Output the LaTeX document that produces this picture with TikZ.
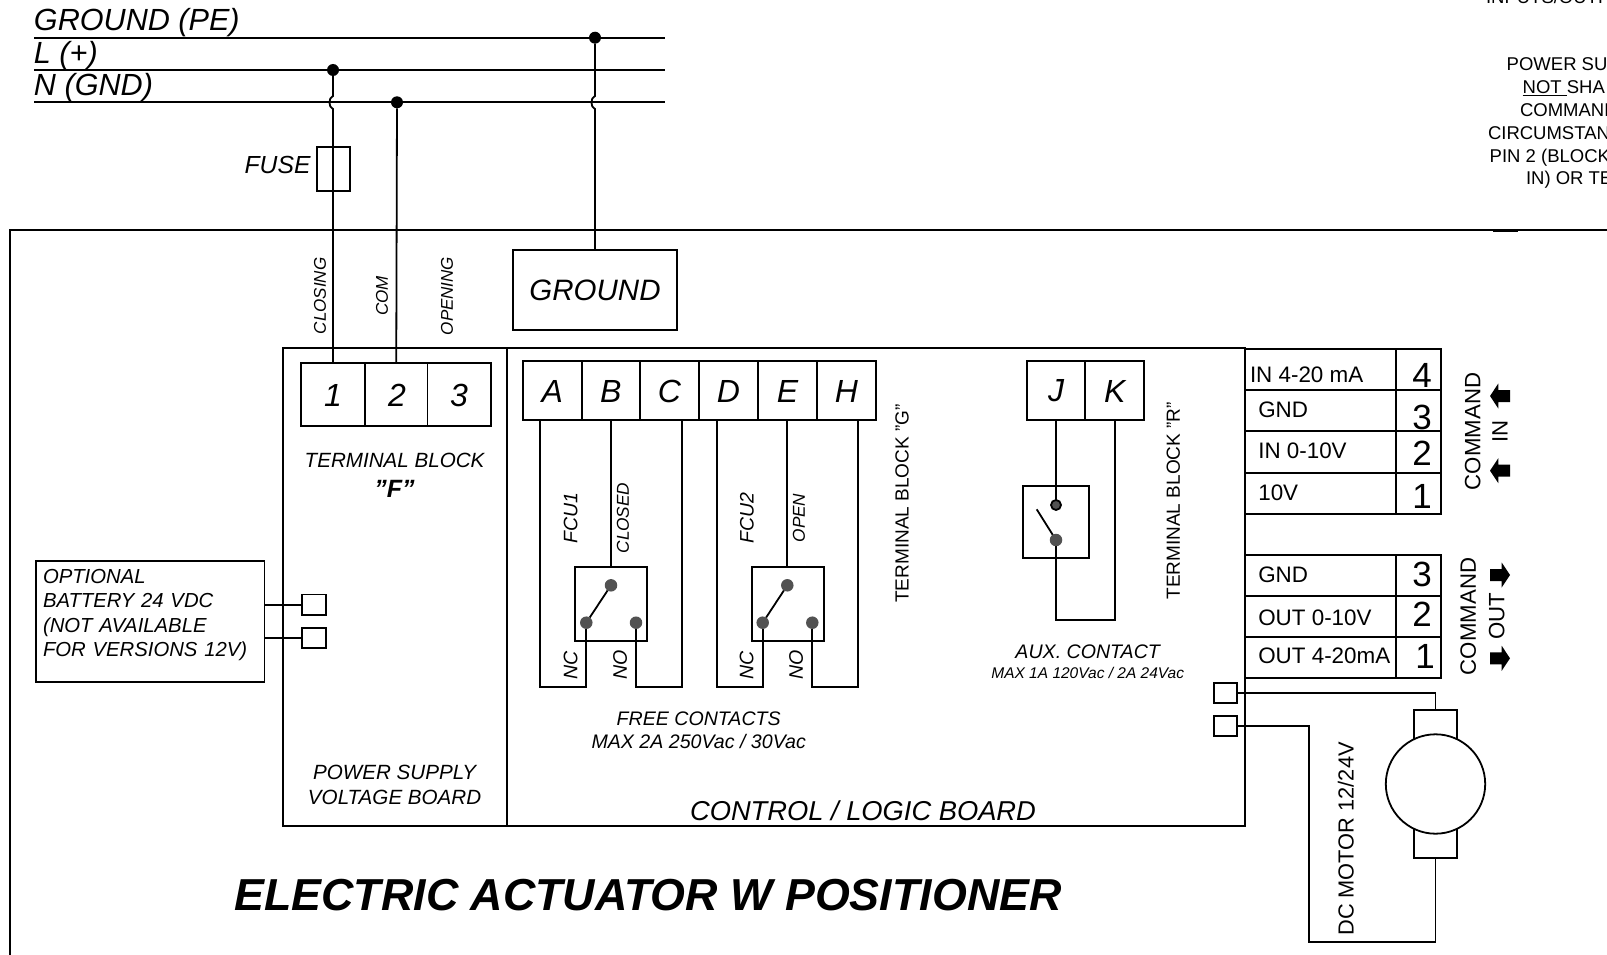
\documentclass[tikz,border=0pt]{standalone}
\usepackage{fontspec}
\setmainfont{Liberation Sans}
\newcommand{\fsz}[2]{\fontsize{#1}{#2}\selectfont}
\tikzset{
	wire/.style={line width=1.8pt},
	cell/.style={draw, line width=1.8pt, inner sep=0pt, outer sep=0pt},
	txt/.style={inner sep=0pt, outer sep=0pt},
	bus/.style={txt, anchor=base west, font=\fsz{30.6}{34}\itshape},
	vlab/.style={txt, rotate=90, font=\fsz{17}{20}\itshape},
	vsmall/.style={txt, rotate=90, font=\fsz{17.2}{20}\itshape},
	vcon/.style={txt, rotate=90, font=\fsz{19.6}{22}\itshape},
	vtxt/.style={txt, rotate=90, font=\fsz{22.2}{25}},
	boardtxt/.style={txt, font=\fsz{20.6}{24}\itshape},
	pinletter/.style={txt, font=\fsz{32}{36}\itshape},
	row/.style={txt, anchor=west, font=\fsz{22.4}{26}},
	num/.style={txt, font=\fsz{35}{38}},
	note/.style={txt, anchor=base west, font=\fsz{18.5}{22}},
	dot/.style={circle, fill=black, inner sep=0pt, outer sep=0pt, minimum size=12pt},
	pin/.style={circle, fill=black!68, inner sep=0pt, outer sep=0pt, minimum size=12.5pt},
	cmdarrow/.pic={
		\fill (-10,0) -- (-1.7,-12.5) -- (-1.7,-6) -- (10,-6) -- (10,6) -- (-1.7,6) -- (-1.7,12.5) -- cycle;
	}
}

\begin{document}
\begin{tikzpicture}[x=1pt,y=-1pt]
	\useasboundingbox (0,0) rectangle (1607,955);
	\clip (0,0) rectangle (1607,955);

	% supply lines
	\coordinate (pe1) at (34,37.7);
	\coordinate (pe2) at (665,37.7);
	\coordinate (l1) at (34,70);
	\coordinate (l2) at (665,70);
	\coordinate (n1) at (34,102.3);
	\coordinate (n2) at (665,102.3);
	\node[bus] (peText) at (34,31) {GROUND (PE)};
	\node[bus] (lText) at (34,64) {L (+)};
	\node[bus] (nText) at (34,96) {N (GND)};
	\draw[wire] (pe1) -- (pe2);
	\draw[wire] (l1) -- (l2);
	\draw[wire] (n1) -- (n2);
	\node[dot] (dotPe) at (595,37.7) {};
	\node[dot] (dotL) at (333,70) {};
	\node[dot] (dotN) at (397,102.3) {};

	% outer housing
	\coordinate (h1) at (10,960);
	\coordinate (h2) at (10,230.3);
	\coordinate (h3) at (1612,230.3);
	\coordinate (h4) at (1493,230.3);
	\coordinate (h5) at (1518,230.3);
	\draw[wire] (h1) -- (h2) -- (h3);
	\draw[line width=2.4pt] (h4) -- (h5);

	% ground and fuse
	\node[cell, minimum width=163.4pt, minimum height=80pt, font=\fsz{29.5}{32}\itshape] (ground) at (595,290) {GROUND};
	\node[cell, minimum width=33pt, minimum height=44pt] (fuse) at (333.5,168.7) {};
	\node[txt, anchor=east, font=\fsz{24.7}{28}\itshape] (fuseText) at (310.5,165) {FUSE};
	\coordinate (hopL1) at (333,96);
	\coordinate (hopL2) at (333,109);
	\coordinate (hopG1) at (595,96);
	\coordinate (hopG2) at (595,109);

	% boards
	\node[cell, minimum width=224pt, minimum height=477.7pt] (power) at (395,587.15) {};
	\node[cell, minimum width=738pt, minimum height=477.7pt] (logic) at (876,587.15) {};

	% terminal block F
	\node[cell, minimum width=64pt, minimum height=63pt] (t1) at (333,394.5) {};
	\node[cell, minimum width=62.5pt, minimum height=63pt] (t2) at (396.25,394.5) {};
	\node[cell, minimum width=63.5pt, minimum height=63pt] (t3) at (459.25,394.5) {};
	\node[pinletter] (t1Text) at (333,395) {1};
	\node[pinletter] (t2Text) at (397,395) {2};
	\node[pinletter] (t3Text) at (459,395) {3};
	\draw[wire] (dotL) -- (hopL1) to[bend right=70] (hopL2) -- (t1.north);
	\draw[wire] (dotN) -- (t2.north);
	\draw[wire] (dotPe) -- (hopG1) to[bend right=70] (hopG2) -- (ground.north);
	\node[vlab] (closing) at (320,296) {CLOSING};
	\node[vlab] (com) at (382,296) {COM};
	\node[vlab] (opening) at (447,296) {OPENING};
	\node[boardtxt] (blockF) at (394.6,460) {TERMINAL BLOCK};
	\node[txt, font=\fsz{25}{28}\bfseries\itshape] (blockF2) at (394.6,489) {"F"};
	\node[boardtxt] (supply1) at (394.6,772) {POWER SUPPLY};
	\node[boardtxt] (supply2) at (394.6,797) {VOLTAGE BOARD};
	\node[txt, font=\fsz{27.3}{30}\itshape] (logicText) at (863,811) {CONTROL / LOGIC BOARD};
	\node[txt, font=\fsz{44.8}{50}\bfseries\itshape] (title) at (648,895) {ELECTRIC ACTUATOR W POSITIONER};

	% battery
	\node[cell, minimum width=228.4pt, minimum height=121pt] (battery) at (150.2,621.1) {};
	\node[txt, anchor=west, text width=220pt, align=left, font=\fsz{20.3}{24.6}\itshape] (batText) at (43,615)
		{OPTIONAL\\BATTERY 24 VDC\\(NOT AVAILABLE\\FOR VERSIONS 12V)};
	\node[cell, minimum width=24pt, minimum height=20.5pt] (batA) at (314,604.7) {};
	\node[cell, minimum width=24pt, minimum height=20.5pt] (batB) at (314,638) {};
	\draw[wire] (battery.east |- batA.west) -- (batA.west);
	\draw[wire] (battery.east |- batB.west) -- (batB.west);

	% terminal block G
	\node[cell, minimum width=59pt, minimum height=59pt] (tA) at (552.2,390.5) {};
	\node[cell, minimum width=58.3pt, minimum height=59pt] (tB) at (610.85,390.5) {};
	\node[cell, minimum width=59pt, minimum height=59pt] (tC) at (669.5,390.5) {};
	\node[cell, minimum width=59pt, minimum height=59pt] (tD) at (728.5,390.5) {};
	\node[cell, minimum width=59pt, minimum height=59pt] (tE) at (787.5,390.5) {};
	\node[cell, minimum width=59pt, minimum height=59pt] (tH) at (846.5,390.5) {};
	\node[pinletter] (tAText) at (552.2,391) {A};
	\node[pinletter] (tBText) at (610.85,391) {B};
	\node[pinletter] (tCText) at (669.5,391) {C};
	\node[pinletter] (tDText) at (728.5,391) {D};
	\node[pinletter] (tEText) at (787.5,391) {E};
	\node[pinletter] (tHText) at (846.5,391) {H};
	\node[txt, rotate=90, font=\fsz{19}{22}] (blockG) at (902,503.5) {TERMINAL BLOCK "G"};

	% FCU1
	\node[cell, minimum width=72.3pt, minimum height=74.3pt] (fcuA) at (610.85,603.85) {};
	\node[pin] (pinA1) at (611,585.3) {};
	\node[pin] (pinA2) at (586.3,622.7) {};
	\node[pin] (pinA3) at (636,622.7) {};
	\coordinate (wA1) at (540,420);
	\coordinate (wA2) at (586.3,686.7);
	\coordinate (wC1) at (682,420);
	\coordinate (wC2) at (636,686.7);
	\draw[wire] (wA1) |- (wA2) -- (pinA2);
	\draw[wire] (wC1) |- (wC2) -- (pinA3);
	\draw[wire] (tB.south -| pinA1) -- (fcuA.north -| pinA1);
	\draw[wire] (pinA1) -- (pinA2);
	\node[vlab, font=\fsz{19.5}{22}\itshape] (fcu1) at (570.7,518) {FCU1};
	\node[vsmall] (closed) at (623,518) {CLOSED};
	\node[vcon] (ncA) at (570.7,665) {NC};
	\node[vcon] (noA) at (620,665) {NO};

	% FCU2
	\node[cell, minimum width=72pt, minimum height=74.3pt] (fcuB) at (787.7,603.85) {};
	\node[pin] (pinB1) at (787.3,585.3) {};
	\node[pin] (pinB2) at (762.7,622.7) {};
	\node[pin] (pinB3) at (812.3,622.7) {};
	\coordinate (wD1) at (716.7,420);
	\coordinate (wD2) at (762.7,686.7);
	\coordinate (wH1) at (858.3,420);
	\coordinate (wH2) at (812.3,686.7);
	\draw[wire] (wD1) |- (wD2) -- (pinB2);
	\draw[wire] (wH1) |- (wH2) -- (pinB3);
	\draw[wire] (tE.south -| pinB1) -- (fcuB.north -| pinB1);
	\draw[wire] (pinB1) -- (pinB2);
	\node[vlab, font=\fsz{19.5}{22}\itshape] (fcu2) at (747,518) {FCU2};
	\node[vsmall] (open) at (799,518) {OPEN};
	\node[vcon] (ncB) at (746.7,665) {NC};
	\node[vcon] (noB) at (796,665) {NO};
	\node[txt, font=\fsz{19.6}{22}\itshape] (free1) at (698.7,719) {FREE CONTACTS};
	\node[txt, font=\fsz{19.6}{22}\itshape] (free2) at (698.7,741.7) {MAX 2A 250Vac / 30Vac};

	% terminal block R
	\node[cell, minimum width=58.6pt, minimum height=59pt] (tJ) at (1056,390.5) {};
	\node[cell, minimum width=59pt, minimum height=59pt] (tK) at (1114.8,390.5) {};
	\node[pinletter] (tJText) at (1056,391) {J};
	\node[pinletter] (tKText) at (1114.8,391) {K};
	\node[txt, rotate=90, font=\fsz{19}{22}] (blockR) at (1173.3,500.8) {TERMINAL BLOCK "R"};
	\node[cell, minimum width=66.6pt, minimum height=72.3pt] (aux) at (1056,522.15) {};
	\node[pin, draw=black, line width=1.8pt, minimum size=10pt] (pinJ) at (1056,505) {};
	\node[pin] (pinK) at (1056,540) {};
	\coordinate (arm) at (1036.7,509.3);
	\coordinate (wK1) at (1115,420);
	\coordinate (wK2) at (1056,620);
	\draw[wire] (tJ.south) -- (pinJ);
	\draw[wire] (wK1) |- (wK2) -- (pinK);
	\draw[wire] (arm) -- (pinK);
	\node[txt, font=\fsz{19.6}{22}\itshape] (auxText) at (1087.7,651.7) {AUX. CONTACT};
	\node[txt, font=\fsz{15.5}{18}\itshape] (auxMax) at (1087.7,673.3) {MAX 1A 120Vac / 2A 24Vac};

	% command in
	\node[cell, minimum width=150.7pt, minimum height=41pt] (in4) at (1320.35,369.5) {};
	\node[cell, minimum width=150.7pt, minimum height=40.7pt] (in3) at (1320.35,410.35) {};
	\node[cell, minimum width=150.7pt, minimum height=42pt] (in2) at (1320.35,451.7) {};
	\node[cell, minimum width=150.7pt, minimum height=41pt] (in1) at (1320.35,493.2) {};
	\node[cell, minimum width=45.3pt, minimum height=41pt] (inN4) at (1418.35,369.5) {};
	\node[cell, minimum width=45.3pt, minimum height=40.7pt] (inN3) at (1418.35,410.35) {};
	\node[cell, minimum width=45.3pt, minimum height=42pt] (inN2) at (1418.35,451.7) {};
	\node[cell, minimum width=45.3pt, minimum height=41pt] (inN1) at (1418.35,493.2) {};
	\node[row] (in4Text) at (1250,375) {IN 4-20 mA};
	\node[row] (in3Text) at (1258.3,409.3) {GND};
	\node[row] (in2Text) at (1258.3,450.7) {IN 0-10V};
	\node[row] (in1Text) at (1258.3,492.7) {10V};
	\node[num] (in4Num) at (1422,375) {4};
	\node[num] (in3Num) at (1422,417) {3};
	\node[num] (in2Num) at (1422,453) {2};
	\node[num] (in1Num) at (1422,496.7) {1};
	\node[vtxt] (cmdIn) at (1472.7,431.5) {COMMAND};
	\node[vtxt] (cmdIn2) at (1500,431.5) {IN};
	\pic[rotate=0] (arrIn1) at (1500,396) {cmdarrow};
	\pic[rotate=0] (arrIn2) at (1500,470.7) {cmdarrow};

	% command out
	\node[cell, minimum width=150.7pt, minimum height=41pt] (out3) at (1320.35,575.5) {};
	\node[cell, minimum width=150.7pt, minimum height=40.7pt] (out2) at (1320.35,616.35) {};
	\node[cell, minimum width=150.7pt, minimum height=41pt] (out1) at (1320.35,657.2) {};
	\node[cell, minimum width=45.3pt, minimum height=41pt] (outN3) at (1418.35,575.5) {};
	\node[cell, minimum width=45.3pt, minimum height=40.7pt] (outN2) at (1418.35,616.35) {};
	\node[cell, minimum width=45.3pt, minimum height=41pt] (outN1) at (1418.35,657.2) {};
	\node[row] (out3Text) at (1258.3,574.3) {GND};
	\node[row] (out2Text) at (1258.3,617.3) {OUT 0-10V};
	\node[row] (out1Text) at (1258.3,656) {OUT 4-20mA};
	\node[num] (out3Num) at (1422,574) {3};
	\node[num] (out2Num) at (1422,614) {2};
	\node[num] (out1Num) at (1425,656.7) {1};
	\node[vtxt] (cmdOut) at (1468.3,616.5) {COMMAND};
	\node[vtxt] (cmdOut2) at (1496.7,616.5) {OUT};
	\pic[rotate=180] (arrOut1) at (1500,575) {cmdarrow};
	\pic[rotate=180] (arrOut2) at (1500,658.3) {cmdarrow};

	% motor
	\node[cell, minimum width=22.7pt, minimum height=20.6pt] (mA) at (1225.35,693) {};
	\node[cell, minimum width=22.7pt, minimum height=20.6pt] (mB) at (1225.35,725.9) {};
	\node[cell, minimum width=43.7pt, minimum height=148.3pt] (brush) at (1435.5,784.15) {};
	\node[cell, circle, fill=white, minimum size=99.4pt] (motor) at (1435.5,784) {};
	\coordinate (mLow) at (1309.3,941.7);
	\draw[wire] (mA.east) -| (brush.north);
	\draw[wire] (mB.east) -| (mLow) -| (brush.south);
	\node[vtxt, font=\fsz{21.8}{25}] (motorText) at (1345.7,839) {DC MOTOR 12/24V};

	% note, cut by the page edge
	\node[note] (note0) at (1486,3.5) {INPUTS/OUTP};
	\node[note] (note1) at (1506.7,70.5) {POWER SU};
	\node[note] (note2) at (1522.7,93.5) {\underline{NOT\ }SHA};
	\node[note] (note3) at (1520,116.5) {COMMAND};
	\node[note] (note4) at (1488,139.5) {CIRCUMSTAN};
	\node[note] (note5) at (1489.7,163) {PIN 2 (BLOCK};
	\node[note] (note6) at (1526,185) {IN) OR TE};
\end{tikzpicture}
\end{document}
